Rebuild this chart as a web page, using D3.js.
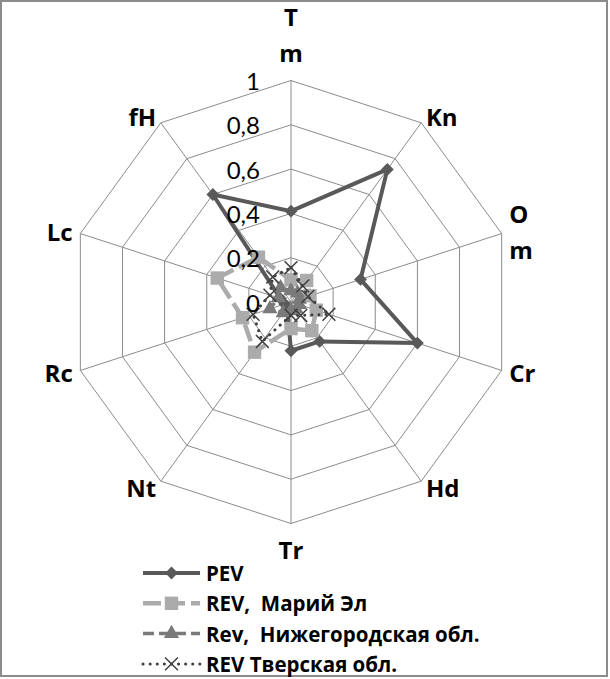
<!DOCTYPE html>
<html>
<head>
<meta charset="utf-8">
<script src="https://cdn.jsdelivr.net/npm/d3@7"></script>
<style>
  body { margin: 0; background: #fff; }
  svg { display: block; font-family: Lato, "Open Sans", sans-serif; }
  text { white-space: pre; }
</style>
</head>
<body>
<svg id="drawing_region"></svg>
<script>
const CATEGORIES = ["Tm", "Kn", "Om", "Cr", "Hd", "Tr", "Nt", "Rc", "Lc", "fH"];
const TICKS = [0, 0.2, 0.4, 0.6, 0.8, 1];

const PEV = [0.41, 0.74, 0.33, 0.6, 0.22, 0.22, 0.03, 0.03, 0.05, 0.6];
const REV_MARI = [0.1, 0.12, 0.09, 0.12, 0.16, 0.12, 0.28, 0.23, 0.35, 0.25];
const REV_NIZH = [0.05, 0.05, 0.04, 0.04, 0.04, 0.04, 0.06, 0.1, 0.06, 0.08];
const REV_TVER = [0.155, 0.09, 0.08, 0.18, 0.075, 0.06, 0.22, 0.18, 0.1, 0.14];

const SERIES_NAMES = [
  "PEV",
  "REV,  Марий Эл",
  "Rev,  Нижегородская обл.",
  "REV Тверская обл.",
];

// Excel wrapped these two labels onto two lines
const WRAPPED = { Tm: ["T", "m"], Om: ["O", "m"] };

const styles = [
  { color: "#595959", width: 4, dash: null, cap: "butt", marker: "diamond", size: 105 },
  { color: "#ababab", width: 4.5, dash: "18,6", cap: "butt", marker: "square", size: 180 },
  { color: "#7a7a7a", width: 3.5, dash: "11,5", cap: "butt", marker: "triangle", size: 100 },
  { color: "#404040", width: 3, dash: "0.1,7", cap: "round", marker: "cross", size: 110 },
];

const width = 610;
const height = 679;
const cx = 291;
const cy = 302;
const R = 221.5;

const svg = d3.select("#drawing_region").attr("width", width).attr("height", height);

svg.append("rect")
  .attr("x", 1).attr("y", 1)
  .attr("width", 606).attr("height", 675)
  .attr("fill", "none")
  .attr("stroke", "#8c8c8c")
  .attr("stroke-width", 2);

const rscale = d3.scaleLinear().domain([0, 1]).range([0, R]);
const angle = d3.scaleBand().domain(CATEGORIES).range([0, 2 * Math.PI]).align(0);

const pt = (cat, v) => {
  const a = angle(cat);
  return [cx + Math.sin(a) * rscale(v), cy - Math.cos(a) * rscale(v)];
};

const chart = svg.append("g");

// grid rings
TICKS.filter((t) => t > 0).forEach((t) => {
  chart.append("path")
    .attr("d", d3.line()(CATEGORIES.map((c) => pt(c, t))) + "Z")
    .attr("fill", "none")
    .attr("stroke", "#8c8c8c")
    .attr("stroke-width", 1);
});

// spokes
chart.selectAll(".spoke")
  .data(CATEGORIES)
  .join("line")
  .attr("class", "spoke")
  .attr("x1", cx).attr("y1", cy)
  .attr("x2", (c) => pt(c, 1)[0])
  .attr("y2", (c) => pt(c, 1)[1])
  .attr("stroke", "#8c8c8c")
  .attr("stroke-width", 1);

// category labels
CATEGORIES.forEach((c) => {
  const a = angle(c);
  const s = Math.sin(a);
  const co = Math.cos(a);
  const lines = WRAPPED[c] || [c];
  const n = lines.length;
  let [x, y] = pt(c, 1 + 8 / R);
  const anchor = s > 0.1 ? "start" : s < -0.1 ? "end" : "middle";
  if (Math.abs(s) < 0.1) y -= co * (18 + (n - 1) * 20);
  const t = svg.append("text")
    .attr("text-anchor", anchor)
    .attr("font-family", "'Open Sans', sans-serif")
    .attr("font-size", 24)
    .attr("font-weight", "bold")
    .attr("fill", "#000");
  lines.forEach((l, i) => {
    t.append("tspan")
      .attr("x", x)
      .attr("y", y + (i - (n - 1) / 2) * 36)
      .attr("dominant-baseline", "central")
      .text(l);
  });
});

// series
const lineGen = d3.line().curve(d3.curveLinearClosed);
const symbolOf = {
  diamond: d3.symbolDiamond2,
  square: d3.symbolSquare,
  triangle: d3.symbolTriangle,
  cross: d3.symbolX,
};

function drawMarker(g, st, x, y) {
  const sym = d3.symbol().type(symbolOf[st.marker]).size(st.size);
  const m = g.append("path")
    .attr("d", sym())
    .attr("transform", `translate(${x},${y})`);
  if (st.marker === "cross") {
    m.attr("fill", "none").attr("stroke", st.color).attr("stroke-width", 1.5);
  } else {
    m.attr("fill", st.color);
  }
}

[PEV, REV_MARI, REV_NIZH, REV_TVER].forEach((vals, i) => {
  const st = styles[i];
  const pts = CATEGORIES.map((c, k) => pt(c, vals[k]));
  const g = chart.append("g");
  g.append("path")
    .attr("d", lineGen(pts))
    .attr("fill", "none")
    .attr("stroke", st.color)
    .attr("stroke-width", st.width)
    .attr("stroke-dasharray", st.dash)
    .attr("stroke-linecap", st.cap)
    .attr("stroke-linejoin", "round");
  pts.forEach((p) => drawMarker(g, st, p[0], p[1]));
});

// radial tick labels
const fmt = d3.formatLocale({ decimal: ",", thousands: " ", grouping: [3], currency: ["", ""] }).format("~g");
svg.selectAll(".tick-label")
  .data(TICKS)
  .join("text")
  .attr("class", "tick-label")
  .attr("x", cx - 31)
  .attr("y", (t) => cy - rscale(t))
  .attr("text-anchor", "end")
  .attr("dominant-baseline", "central")
  .attr("font-size", 24)
  .attr("fill", "#000")
  .text((t) => fmt(t));

// legend
const legend = svg.append("g");
SERIES_NAMES.forEach((name, i) => {
  const st = styles[i];
  const y = 573 + i * 30.3;
  legend.append("line")
    .attr("x1", 143).attr("x2", 200)
    .attr("y1", y).attr("y2", y)
    .attr("stroke", st.color)
    .attr("stroke-width", st.width)
    .attr("stroke-dasharray", st.dash)
    .attr("stroke-linecap", st.cap);
  drawMarker(legend, st, 171.5, y);
  legend.append("text")
    .attr("x", 206)
    .attr("y", y)
    .attr("dominant-baseline", "central")
    .attr("font-family", "'Open Sans', sans-serif")
    .attr("font-size", 20.5)
    .attr("font-weight", "bold")
    .attr("fill", "#000")
    .text(name);
});
</script>
</body>
</html>
